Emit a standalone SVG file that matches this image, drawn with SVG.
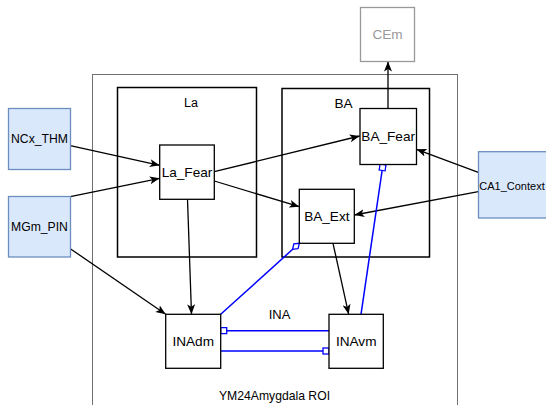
<svg xmlns="http://www.w3.org/2000/svg" width="546" height="405" viewBox="0 0 546 405">
<style>
text{font-family:"Liberation Sans",Arial,sans-serif;fill:#000;text-anchor:middle;dominant-baseline:central}
.node{fill:#fff;stroke:#000;stroke-width:1.3}
.grp{fill:none;stroke:#000;stroke-width:1.5}
.inp{fill:#dae8fc;stroke:#6c8ebf;stroke-width:1.3}
.roi{fill:none;stroke:#707070;stroke-width:1}
.n13{font-size:13.6px}
.n12{font-size:12.2px}
.blk{fill:none;stroke:#000;stroke-width:1.3;marker-end:url(#arr)}
.blu{fill:none;stroke:#0000ff;stroke-width:1.5}
</style>
<defs>
<marker id="arr" viewBox="0 0 10 8" refX="10" refY="4" markerWidth="10" markerHeight="8" markerUnits="userSpaceOnUse" orient="auto">
<path d="M0,0 L10,4 L0,8 L2.5,4 z" fill="#000"/>
</marker>
<marker id="sq" viewBox="0 0 8 8" refX="7" refY="4" markerWidth="8" markerHeight="8" markerUnits="userSpaceOnUse" orient="auto">
<rect x="1" y="1" width="6" height="6" fill="#fff" stroke="#0000ff" stroke-width="1.3"/>
</marker>
<marker id="dia" viewBox="0 0 11 8" refX="10" refY="4" markerWidth="11" markerHeight="8" markerUnits="userSpaceOnUse" orient="auto">
<path d="M1,4 L5.5,0.8 L10,4 L5.5,7.2 z" fill="#fff" stroke="#0000ff" stroke-width="1.3"/>
</marker>
</defs>

<g id="roi">
<rect class="roi" x="92.5" y="74.5" width="365" height="345"/>
<text class="n12" x="274.5" y="395.5">YM24Amygdala ROI</text>
</g>
<g id="La">
<rect class="grp" x="117.5" y="87.5" width="139" height="169.5"/>
<text style="font-size:12.5px" x="191" y="103">La</text>
</g>
<g id="BA">
<rect class="grp" x="282" y="88.5" width="147.5" height="168.5"/>
<text class="n13" x="343.5" y="103">BA</text>
</g>
<g id="INA">
<text style="font-size:13px" x="279.5" y="314">INA</text>
</g>

<g id="connectors">
<line class="blk" x1="70.3" y1="145.7" x2="159.7" y2="165.3"/>
<line class="blk" x1="70.3" y1="196.7" x2="159.7" y2="178.3"/>
<line class="blk" x1="214.3" y1="171.7" x2="359.7" y2="136"/>
<line class="blk" x1="214.3" y1="181" x2="299.3" y2="206.7"/>
<line class="blk" x1="478.3" y1="172.3" x2="416.5" y2="149.3"/>
<line class="blk" x1="478.3" y1="191.7" x2="354.3" y2="215"/>
<line class="blk" x1="388" y1="108.3" x2="388" y2="61.5"/>
<line class="blk" x1="70.3" y1="248.7" x2="165.7" y2="314.3"/>
<line class="blk" x1="187.5" y1="199.3" x2="191.5" y2="314.3"/>
<line class="blk" x1="333" y1="243.3" x2="348.7" y2="314.3"/>
<line class="blu" x1="220.7" y1="314.3" x2="299.3" y2="243.3" marker-end="url(#dia)"/>
<line class="blu" x1="361" y1="314.3" x2="383" y2="164.5" marker-end="url(#sq)"/>
<line class="blu" x1="329" y1="330.7" x2="220.7" y2="330.7" marker-end="url(#sq)"/>
<line class="blu" x1="220.7" y1="351" x2="329" y2="351" marker-end="url(#sq)"/>
</g>

<g id="CEm">
<rect x="360.5" y="7.5" width="54" height="54" fill="#fff" stroke="#999" stroke-width="1.3"/>
<text class="n13" x="387.5" y="34.5" style="fill:#999">CEm</text>
</g>
<g id="BA_Fear">
<rect class="node" x="360" y="108.5" width="56.5" height="56"/>
<text class="n13" x="388.2" y="136.5">BA_Fear</text>
</g>
<g id="La_Fear">
<rect class="node" x="159.7" y="145" width="54.6" height="54.3"/>
<text class="n13" x="187" y="172">La_Fear</text>
</g>
<g id="BA_Ext">
<rect class="node" x="299.3" y="189.3" width="55" height="54"/>
<text class="n13" x="326.8" y="216.3">BA_Ext</text>
</g>
<g id="INAdm">
<rect class="node" x="165.7" y="314.3" width="55" height="54"/>
<text class="n13" x="193.2" y="341.3">INAdm</text>
</g>
<g id="INAvm">
<rect class="node" x="329" y="314.3" width="54.3" height="54"/>
<text class="n13" x="356.2" y="341.3">INAvm</text>
</g>
<g id="NCx_THM">
<rect class="inp" x="8.5" y="108.5" width="62" height="61"/>
<text class="n12" x="39.5" y="139">NCx_THM</text>
</g>
<g id="MGm_PIN">
<rect class="inp" x="8.5" y="196.5" width="62" height="60.5"/>
<text class="n12" x="39.5" y="227">MGm_PIN</text>
</g>
<g id="CA1_Context">
<rect class="inp" x="478.5" y="151.7" width="70" height="66.3"/>
<text x="512" y="186" style="font-size:11px">CA1_Context</text>
</g>
</svg>
